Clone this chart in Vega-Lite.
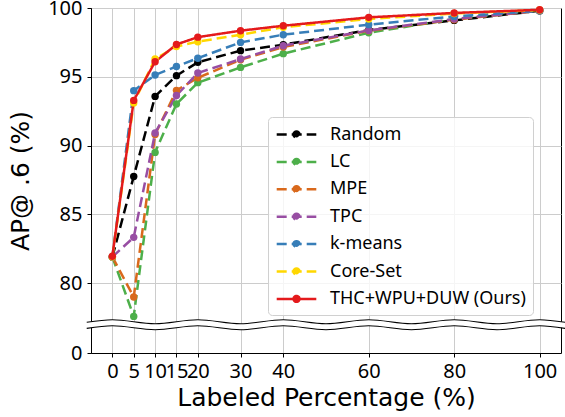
{
  "$schema": "https://vega.github.io/schema/vega-lite/v6.json",
  "autosize": "none",
  "width": 470,
  "height": 345,
  "padding": {"left": 91, "top": 8, "right": 4, "bottom": 64},
  "datasets": {
    "results": [
      {"pct": 0, "ap": 81.9, "method": "Random"},
      {"pct": 5, "ap": 87.75, "method": "Random"},
      {"pct": 10, "ap": 93.57, "method": "Random"},
      {"pct": 15, "ap": 95.08, "method": "Random"},
      {"pct": 20, "ap": 96.05, "method": "Random"},
      {"pct": 30, "ap": 96.9, "method": "Random"},
      {"pct": 40, "ap": 97.33, "method": "Random"},
      {"pct": 60, "ap": 98.4, "method": "Random"},
      {"pct": 80, "ap": 99.1, "method": "Random"},
      {"pct": 100, "ap": 99.8, "method": "Random"},
      {"pct": 0, "ap": 81.9, "method": "LC"},
      {"pct": 5, "ap": 77.57, "method": "LC"},
      {"pct": 10, "ap": 89.5, "method": "LC"},
      {"pct": 15, "ap": 93.02, "method": "LC"},
      {"pct": 20, "ap": 94.57, "method": "LC"},
      {"pct": 30, "ap": 95.68, "method": "LC"},
      {"pct": 40, "ap": 96.68, "method": "LC"},
      {"pct": 60, "ap": 98.2, "method": "LC"},
      {"pct": 80, "ap": 99.2, "method": "LC"},
      {"pct": 100, "ap": 99.8, "method": "LC"},
      {"pct": 0, "ap": 81.9, "method": "MPE"},
      {"pct": 5, "ap": 78.98, "method": "MPE"},
      {"pct": 10, "ap": 90.8, "method": "MPE"},
      {"pct": 15, "ap": 94.01, "method": "MPE"},
      {"pct": 20, "ap": 94.92, "method": "MPE"},
      {"pct": 30, "ap": 96.24, "method": "MPE"},
      {"pct": 40, "ap": 97.16, "method": "MPE"},
      {"pct": 60, "ap": 98.35, "method": "MPE"},
      {"pct": 80, "ap": 99.15, "method": "MPE"},
      {"pct": 100, "ap": 99.8, "method": "MPE"},
      {"pct": 0, "ap": 81.9, "method": "TPC"},
      {"pct": 5, "ap": 83.32, "method": "TPC"},
      {"pct": 10, "ap": 90.91, "method": "TPC"},
      {"pct": 15, "ap": 93.64, "method": "TPC"},
      {"pct": 20, "ap": 95.27, "method": "TPC"},
      {"pct": 30, "ap": 96.29, "method": "TPC"},
      {"pct": 40, "ap": 97.26, "method": "TPC"},
      {"pct": 60, "ap": 98.37, "method": "TPC"},
      {"pct": 80, "ap": 99.2, "method": "TPC"},
      {"pct": 100, "ap": 99.8, "method": "TPC"},
      {"pct": 0, "ap": 81.9, "method": "k-means"},
      {"pct": 5, "ap": 93.99, "method": "k-means"},
      {"pct": 10, "ap": 95.13, "method": "k-means"},
      {"pct": 15, "ap": 95.75, "method": "k-means"},
      {"pct": 20, "ap": 96.35, "method": "k-means"},
      {"pct": 30, "ap": 97.5, "method": "k-means"},
      {"pct": 40, "ap": 98.06, "method": "k-means"},
      {"pct": 60, "ap": 98.79, "method": "k-means"},
      {"pct": 80, "ap": 99.39, "method": "k-means"},
      {"pct": 100, "ap": 99.8, "method": "k-means"},
      {"pct": 0, "ap": 81.9, "method": "Core-Set"},
      {"pct": 5, "ap": 93.1, "method": "Core-Set"},
      {"pct": 10, "ap": 96.29, "method": "Core-Set"},
      {"pct": 15, "ap": 97.2, "method": "Core-Set"},
      {"pct": 20, "ap": 97.55, "method": "Core-Set"},
      {"pct": 30, "ap": 98.06, "method": "Core-Set"},
      {"pct": 40, "ap": 98.6, "method": "Core-Set"},
      {"pct": 60, "ap": 99.2, "method": "Core-Set"},
      {"pct": 80, "ap": 99.6, "method": "Core-Set"},
      {"pct": 100, "ap": 99.85, "method": "Core-Set"},
      {"pct": 0, "ap": 81.95, "method": "THC+WPU+DUW (Ours)"},
      {"pct": 5, "ap": 93.28, "method": "THC+WPU+DUW (Ours)"},
      {"pct": 10, "ap": 96.09, "method": "THC+WPU+DUW (Ours)"},
      {"pct": 15, "ap": 97.35, "method": "THC+WPU+DUW (Ours)"},
      {"pct": 20, "ap": 97.88, "method": "THC+WPU+DUW (Ours)"},
      {"pct": 30, "ap": 98.35, "method": "THC+WPU+DUW (Ours)"},
      {"pct": 40, "ap": 98.71, "method": "THC+WPU+DUW (Ours)"},
      {"pct": 60, "ap": 99.32, "method": "THC+WPU+DUW (Ours)"},
      {"pct": 80, "ap": 99.64, "method": "THC+WPU+DUW (Ours)"},
      {"pct": 100, "ap": 99.87, "method": "THC+WPU+DUW (Ours)"}
    ],
    "wave": [
      {"pct": -6, "upper": 77.14, "lower": 76.70},
      {"pct": 0, "upper": 77.33, "lower": 76.89},
      {"pct": 10, "upper": 77.04, "lower": 76.60},
      {"pct": 20, "upper": 77.33, "lower": 76.89},
      {"pct": 30, "upper": 77.04, "lower": 76.60},
      {"pct": 40, "upper": 77.33, "lower": 76.89},
      {"pct": 50, "upper": 77.04, "lower": 76.60},
      {"pct": 60, "upper": 77.33, "lower": 76.89},
      {"pct": 70, "upper": 77.04, "lower": 76.60},
      {"pct": 80, "upper": 77.33, "lower": 76.89},
      {"pct": 90, "upper": 77.04, "lower": 76.60},
      {"pct": 100, "upper": 77.33, "lower": 76.89},
      {"pct": 106, "upper": 77.14, "lower": 76.70}
    ]
  },
  "encoding": {
    "x": {
      "field": "pct",
      "type": "quantitative",
      "title": "Labeled Percentage (%)",
      "scale": {"domain": [-5, 105], "nice": false, "zero": false},
      "axis": {"values": [0, 5, 10, 15, 20, 30, 40, 60, 80, 100], "labelOverlap": false, "labelFlush": false, "labelPadding": 4, "titlePadding": 4}
    }
  },
  "layer": [
    {
      "data": {"name": "results"},
      "mark": {"type": "line", "strokeWidth": 2.5},
      "encoding": {
        "y": {
          "field": "ap",
          "type": "quantitative",
          "title": "AP@ .6 (%)",
          "scale": {"domain": [0, 76, 100], "range": [345, 330, 0], "nice": false, "zero": false},
          "axis": {"values": [0, 80, 85, 90, 95, 100], "labelOverlap": false, "labelPadding": 5, "titlePadding": 14}
        },
        "color": {
          "field": "method",
          "type": "nominal",
          "scale": {
            "domain": ["Random", "LC", "MPE", "TPC", "k-means", "Core-Set", "THC+WPU+DUW (Ours)"],
            "range": ["#000000", "#4daf4a", "#d9691c", "#984ea3", "#377eb8", "#ffd700", "#e41a1c"]
          },
          "legend": {
            "title": null,
            "orient": "none",
            "legendX": 177,
            "legendY": 109,
            "padding": 7,
            "symbolOffset": 11,
            "labelOffset": 23,
            "rowPadding": 7.4,
            "labelFontSize": 18,
            "labelLimit": 400,
            "symbolType": "M-2.2,0L2.2,0M-0.33,0A0.33,0.33,0,1,1,0.33,0A0.33,0.33,0,1,1,-0.33,0Z",
            "symbolSize": 324,
            "symbolStrokeWidth": 2.5,
            "strokeColor": "#d0d0d0",
            "fillColor": "rgba(255,255,255,0.8)",
            "cornerRadius": 4,
            "encode": {"symbols": {"update": {"fill": {"scale": "color", "field": "value"}, "fillOpacity": {"value": 1}}}}
          }
        },
        "strokeDash": {
          "field": "method",
          "type": "nominal",
          "scale": {
            "domain": ["Random", "LC", "MPE", "TPC", "k-means", "Core-Set", "THC+WPU+DUW (Ours)"],
            "range": [[10, 5], [10, 5], [10, 5], [10, 5], [10, 5], [10, 5], [1, 0]]
          },
          "legend": {"title": null}
        }
      }
    },
    {
      "data": {"name": "results"},
      "mark": {"type": "point", "filled": true, "size": 55, "opacity": 1},
      "encoding": {
        "y": {"field": "ap", "type": "quantitative", "title": "AP@ .6 (%)"},
        "color": {"field": "method", "type": "nominal"}
      }
    },
    {
      "data": {"name": "wave"},
      "mark": {"type": "area", "color": "white", "interpolate": "monotone", "clip": false},
      "encoding": {
        "y": {"field": "upper", "type": "quantitative", "title": "AP@ .6 (%)"},
        "y2": {"field": "lower"}
      }
    },
    {
      "data": {"name": "wave"},
      "mark": {"type": "line", "color": "black", "strokeWidth": 1.1, "interpolate": "monotone", "clip": false},
      "encoding": {
        "y": {"field": "upper", "type": "quantitative", "title": "AP@ .6 (%)"}
      }
    },
    {
      "data": {"name": "wave"},
      "mark": {"type": "line", "color": "black", "strokeWidth": 1.1, "interpolate": "monotone", "clip": false},
      "encoding": {
        "y": {"field": "lower", "type": "quantitative", "title": "AP@ .6 (%)"}
      }
    }
  ],
  "config": {
    "font": "Noto Sans",
    "view": {"stroke": "black", "strokeWidth": 1},
    "axis": {
      "gridColor": "#cccccc",
      "gridWidth": 1,
      "domainColor": "black",
      "tickColor": "black",
      "tickSize": 4,
      "labelColor": "black",
      "titleColor": "black",
      "labelFontSize": 20,
      "titleFontSize": 25,
      "titleFontWeight": "normal",
      "labelFont": "Noto Sans",
      "titleFont": "DejaVu Sans"
    },
    "legend": {"labelFont": "Noto Sans", "labelColor": "black"}
  }
}
